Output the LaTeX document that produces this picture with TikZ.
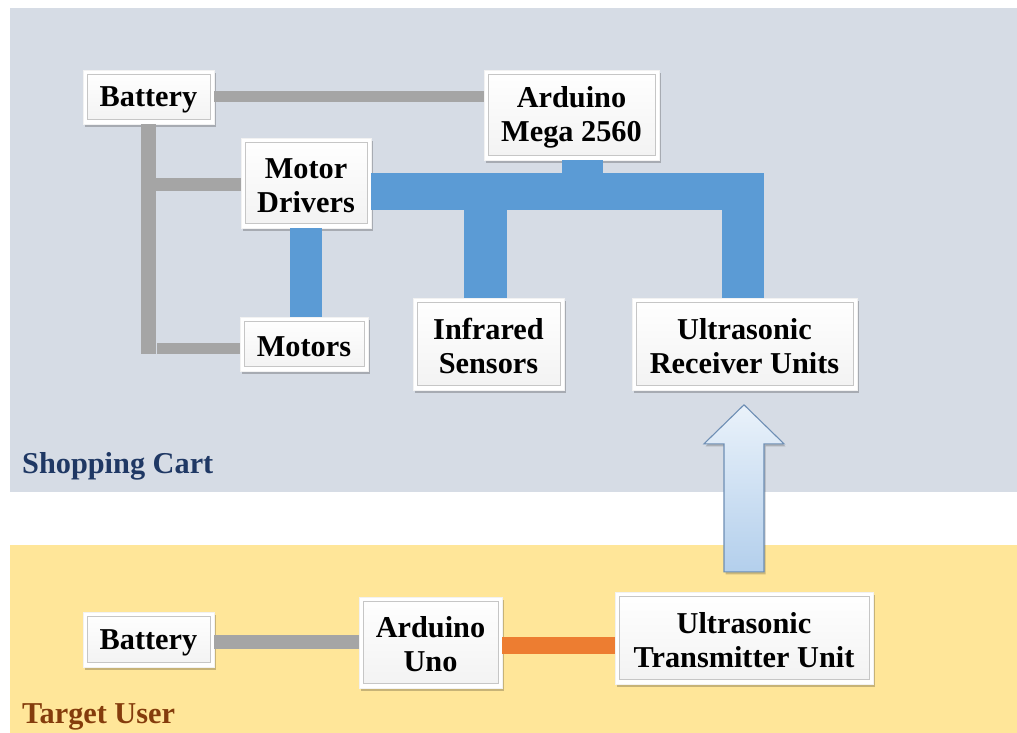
\documentclass[tikz,border=0pt]{standalone}
\usepackage{fontspec}
\setmainfont{Liberation Serif}
\usetikzlibrary{shadows}
\definecolor{cartbg}{HTML}{D6DCE5}
\definecolor{userbg}{HTML}{FFE699}
\definecolor{navytxt}{HTML}{1F3864}
\definecolor{browntxt}{HTML}{843C0C}
\definecolor{graybar}{HTML}{A5A5A5}
\definecolor{bluebar}{HTML}{5B9BD5}
\definecolor{orangebar}{HTML}{ED7D31}
\definecolor{arrowtop}{HTML}{EAF2FA}
\definecolor{arrowbot}{HTML}{B3CFEC}
\definecolor{arrowline}{HTML}{6D8EB4}
\newcommand{\bx}{\rule[-2pt]{0pt}{28pt}}
\tikzset{
  box/.style={rectangle, fill=white, draw=white!95!black, line width=0.4pt,
    inner sep=0pt, align=center,
    font=\bfseries\fontsize{30.3}{34}\selectfont,
    drop shadow={shadow xshift=2pt, shadow yshift=-3pt, opacity=0.22, fill=black},
    path picture={
      \draw[gray!45, line width=0.8pt, top color=white, bottom color=gray!10]
        ([xshift=4pt,yshift=5pt]path picture bounding box.south west)
        rectangle ([xshift=-4pt,yshift=-4pt]path picture bounding box.north east);
    }},
  lab/.style={inner sep=0pt, anchor=base west, font=\bfseries\fontsize{30.3}{34}\selectfont},
  graylink/.style={draw=graybar},
  bluelink/.style={draw=bluebar},
  orangelink/.style={draw=orangebar},
}
\begin{document}
\begin{tikzpicture}[x=1pt, y=-1pt]
\useasboundingbox (0,0) rectangle (1017,733);
% regions
\fill[cartbg] (10,8) rectangle (1017,492);
\fill[userbg] (10,545) rectangle (1017,733);
\node[lab, text=navytxt] (cartlab) at (22,473) {Shopping Cart};
\node[lab, text=browntxt] (userlab) at (22,723) {Target User};

% nodes
\node[box, minimum width=131, minimum height=54] (bat1) at (148.5,97) {\bx Battery};
\node[box, minimum width=130, minimum height=90] (drv) at (306,183) {\bx Motor\\\bx Drivers};
\node[box, minimum width=175, minimum height=90] (mega) at (571.5,115) {\bx Arduino\\\bx Mega 2560};
\node[box, minimum width=151, minimum height=92] (ir) at (488.5,344) {\bx Infrared\\\bx Sensors};
\node[box, minimum width=225, minimum height=92] (rx) at (744.5,344) {\bx Ultrasonic\\\bx Receiver Units};
\node[box, minimum width=128, minimum height=54] (mot) at (304,344) {\bx Motors};
\node[box, minimum width=131, minimum height=55] (bat2) at (148.5,639.5) {\bx Battery};
\node[box, minimum width=143, minimum height=91] (uno) at (430.5,642.5) {\bx Arduino\\\bx Uno};
\node[box, minimum width=258, minimum height=92] (tx) at (744,638) {\bx Ultrasonic\\\bx Transmitter Unit};

% gray power links
\draw[graylink, line width=11] (bat1.east) -- (bat1.east -| mega.west);
\draw[graylink, line width=15] (bat1.south) -- ([yshift=-10pt]bat1.south |- mot.west);
\draw[graylink, line width=13] ([yshift=-1.5pt]drv.west) -- ([yshift=-1.5pt]drv.west -| bat1.south);
\draw[graylink, line width=11] ([yshift=-4.5pt]mot.west) -- ([yshift=-4.5pt, xshift=8.5pt]mot.west -| bat1.south);
\draw[graylink, line width=14] ([yshift=-2.5pt]bat2.east) -- ([yshift=-2.5pt]bat2.east -| uno.west);

% blue signal links
\draw[bluelink, line width=37] ([yshift=-8.5pt]drv.east) -- ++(393,0) coordinate (busend);
\draw[bluelink, line width=41] ([xshift=11pt]mega.south) -- ++(0,15);
\draw[bluelink, line width=43] ([xshift=-3pt]ir.north) -- ++(0,-100);
\draw[bluelink, line width=42] ([xshift=-1.5pt]rx.north) -- ++(0,-100);
\draw[bluelink, line width=32] (drv.south) -- (drv.south |- mot.north);

% orange link
\draw[orangelink, line width=17] ([yshift=-3pt]uno.east) -- ([yshift=-3pt]uno.east -| tx.west);

% block arrow
\coordinate (ab) at ([yshift=20pt]tx.north);
\path[draw=arrowline, line width=1.1pt, top color=arrowtop, bottom color=arrowbot,
      drop shadow={shadow xshift=1.5pt, shadow yshift=-2.5pt, opacity=0.2, fill=black}]
  (ab) ++(-20,0) -- ++(0,-128) -- ++(-20,0) -- ++(40,-39) -- ++(40,39)
  -- ++(-20,0) -- ++(0,128) -- cycle;
\end{tikzpicture}
\end{document}
